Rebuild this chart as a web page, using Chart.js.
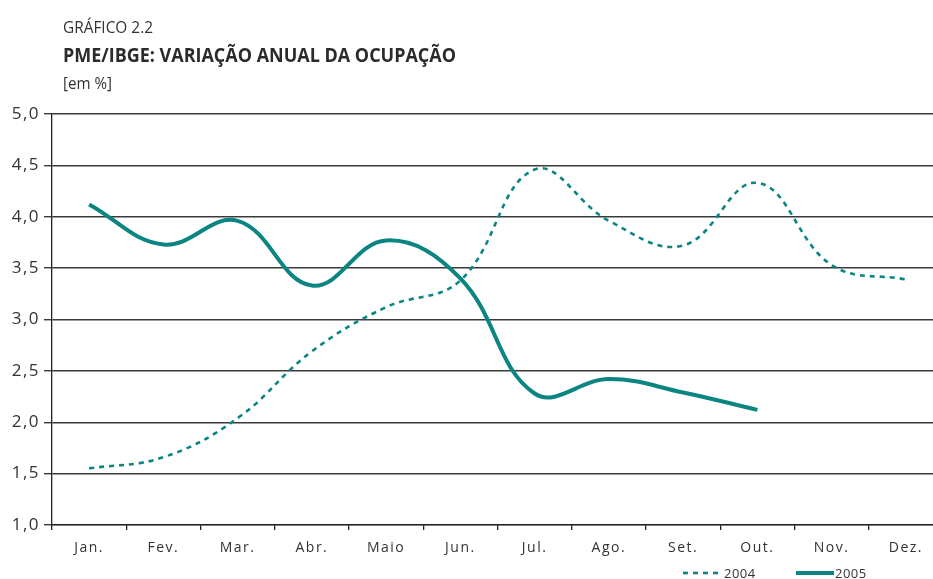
<!DOCTYPE html>
<html>
<head>
<meta charset="utf-8">
<script src="https://cdn.jsdelivr.net/npm/chart.js@4"></script>
<style>
  html, body { margin: 0; padding: 0; background: #fff; overflow: hidden; }
  #wrap { position: relative; width: 933px; height: 579px; overflow: hidden; }
  #box { position: absolute; left: 0; top: 0; width: 950px; height: 579px; }
  .t { position: absolute; white-space: nowrap; color: #333; font-family: 'Open Sans', sans-serif; transform-origin: 0 50%; }
  #t1 { left: 63px; top: 15px; font-size: 17px; line-height: 24px; font-weight: 400; }
  #t2 { left: 63px; top: 41px; font-size: 20px; line-height: 28px; font-weight: 700; color: #2b2b2b; }
  #t3 { left: 63px; top: 72px; font-size: 16px; line-height: 22px; font-weight: 400; }
</style>
</head>
<body>
<div id="wrap">
  <div id="box"><canvas id="c"></canvas></div>
  <div class="t" id="t1">GRÁFICO 2.2</div>
  <div class="t" id="t2">PME/IBGE: VARIAÇÃO ANUAL DA OCUPAÇÃO</div>
  <div class="t" id="t3">[em %]</div>
</div>
<script>
const months = ['Jan.', 'Fev.', 'Mar.', 'Abr.', 'Maio', 'Jun.', 'Jul.', 'Ago.', 'Set.', 'Out.', 'Nov.', 'Dez.'];
const series2004 = [1.55, 1.66, 2.04, 2.69, 3.12, 3.38, 4.46, 3.96, 3.72, 4.33, 3.53, 3.39];
const series2005 = [4.12, 3.73, 3.96, 3.33, 3.77, 3.40, 2.28, 2.42, 2.29, 2.12, null, null];
const seriesNames = ['2004', '2005'];
const yMin = 1.0, yMax = 5.0, yStep = 0.5;

const TEAL = '#0a8582';

// fit title widths to reference
function fit(id, w) {
  const el = document.getElementById(id);
  const cw = el.getBoundingClientRect().width;
  el.style.transform = 'scaleX(' + (w / cw) + ')';
}
fit('t1', 90); fit('t2', 393); fit('t3', 49);

const spacingPlugin = {
  id: 'spacing',
  beforeDraw(chart) {
    if ('letterSpacing' in chart.ctx) chart.ctx.letterSpacing = '1.5px';
  }
};

const legendPlugin = {
  id: 'customLegend',
  afterDraw(chart) {
    const ctx = chart.ctx;
    const items = [
      { ds: chart.data.datasets[0], x0: 683, x1: 718, tx: 724 },
      { ds: chart.data.datasets[1], x0: 796, x1: 834, tx: 835 }
    ];
    const y = 573;
    ctx.save();
    if ('letterSpacing' in ctx) ctx.letterSpacing = '0.5px';
    items.forEach(it => {
      ctx.beginPath();
      ctx.strokeStyle = it.ds.borderColor;
      ctx.lineWidth = it.ds.borderWidth;
      ctx.setLineDash(it.ds.borderDash || []);
      ctx.lineCap = 'butt';
      ctx.moveTo(it.x0, y);
      ctx.lineTo(it.x1, y);
      ctx.stroke();
      ctx.setLineDash([]);
      ctx.fillStyle = '#333';
      ctx.font = '13px "Open Sans", sans-serif';
      ctx.textBaseline = 'middle';
      ctx.textAlign = 'left';
      ctx.fillText(it.ds.label, it.tx, y + 1);
    });
    ctx.restore();
  }
};

new Chart(document.getElementById('c'), {
  type: 'line',
  data: {
    labels: months,
    datasets: [
      {
        label: seriesNames[0],
        data: series2004,
        borderColor: TEAL,
        backgroundColor: TEAL,
        borderWidth: 2.6,
        borderDash: [5, 5],
        pointRadius: 0,
        tension: 0.4,
        fill: false
      },
      {
        label: seriesNames[1],
        data: series2005,
        borderColor: TEAL,
        backgroundColor: TEAL,
        borderWidth: 4,
        pointRadius: 0,
        tension: 0.4,
        fill: false,
        spanGaps: false
      }
    ]
  },
  options: {
    responsive: true,
    maintainAspectRatio: false,
    animation: false,
    layout: { padding: { top: 114, right: 7, left: 0, bottom: 0 } },
    plugins: {
      legend: { display: false },
      tooltip: { enabled: false },
      title: { display: false }
    },
    scales: {
      x: {
        type: 'category',
        offset: true,
        afterFit: s => { s.height = 54; },
        grid: {
          offset: true,
          drawOnChartArea: false,
          drawTicks: true,
          tickLength: 5,
          color: '#222',
          lineWidth: 1.3
        },
        border: { display: true, color: '#222', width: 1.3 },
        ticks: {
          color: '#333',
          font: { family: 'Open Sans', size: 14 },
          padding: 10,
          maxRotation: 0,
          autoSkip: false
        }
      },
      y: {
        min: yMin,
        max: yMax,
        afterFit: s => { s.width = 52; },
        grid: {
          drawOnChartArea: true,
          drawTicks: true,
          tickLength: 8,
          color: '#3a3a3a',
          lineWidth: 1.4
        },
        border: { display: true, color: '#222', width: 1.3 },
        ticks: {
          stepSize: yStep,
          color: '#333',
          font: { family: 'Open Sans', size: 17 },
          padding: 4,
          callback: v => v.toFixed(1).replace('.', ',')
        }
      }
    }
  },
  plugins: [spacingPlugin, legendPlugin]
});
</script>
</body>
</html>
